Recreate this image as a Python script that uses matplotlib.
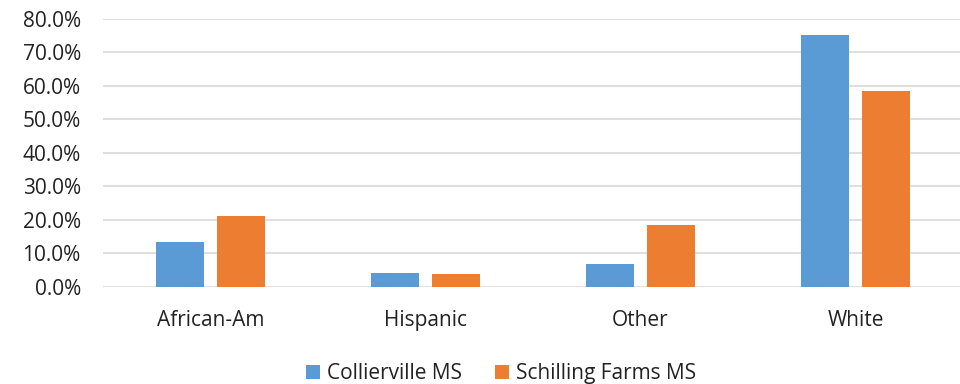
import numpy as np
import matplotlib.pyplot as plt
from matplotlib.ticker import PercentFormatter

plt.rcParams['font.family'] = ['Open Sans', 'DejaVu Sans']

groups = ['African-Am', 'Hispanic', 'Other', 'White']
collierville = [13.3, 4.0, 6.8, 75.2]
schilling = [21.0, 3.9, 18.4, 58.4]
series_names = ['Collierville MS', 'Schilling Farms MS']
colors = ['#5B9BD5', '#ED7D31']

fig = plt.figure(figsize=(9.6, 3.84), dpi=100)
ax = fig.add_axes([0.1073, 0.2534, 0.8927, 0.6979])

x = np.arange(len(groups))
w = 0.223
off = 0.142
ax.bar(x - off, collierville, w, color=colors[0], label=series_names[0], zorder=3)
ax.bar(x + off, schilling, w, color=colors[1], label=series_names[1], zorder=3)

ax.set_ylim(0, 80)
ax.set_xlim(-0.5, 3.486)
ax.set_yticks(np.arange(0, 81, 10))
ax.yaxis.set_major_formatter(PercentFormatter(decimals=1))
ax.set_xticks(x)
ax.set_xticklabels(groups)

ax.grid(axis='y', color='#D9D9D9', linewidth=1.2, zorder=0)
for s in ax.spines.values():
    s.set_visible(False)
ax.tick_params(axis='both', length=0, labelsize=15, colors='#222222')
ax.tick_params(axis='y', pad=16)
ax.tick_params(axis='x', pad=16.5)

fig.legend(loc='center', bbox_to_anchor=(0.522, 0.027), ncol=2, frameon=False,
           fontsize=15, handlelength=0.65, handleheight=0.65, handletextpad=0.35,
           columnspacing=1.6, labelcolor='#222222')

fig.savefig('out.png', dpi=100)
